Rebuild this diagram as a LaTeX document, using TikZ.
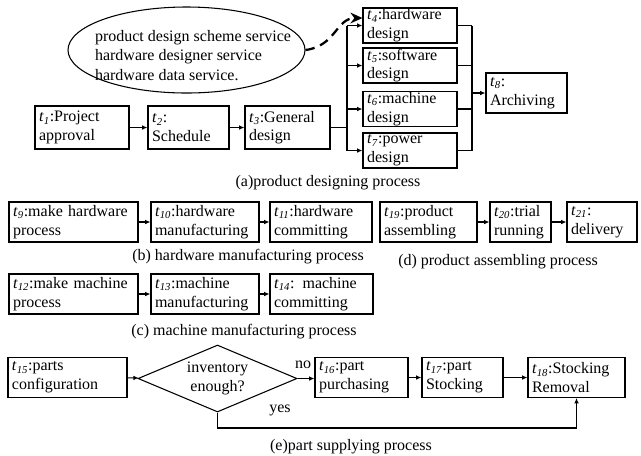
\documentclass[tikz,border=0pt]{standalone}
\usepackage{fontspec}
\setmainfont{Liberation Serif}
\usetikzlibrary{shapes.geometric,arrows.meta}

\newcommand{\tsk}[1]{\textit{t}\textsubscript{\textit{#1}}}

\begin{document}
\begin{tikzpicture}[
  x=0.75pt,
  y=-0.75pt,
  font=\fontsize{12}{14}\selectfont,
  wire/.style={line width=0.8pt},
  flow/.style={wire, -{Latex[length=4pt,width=3.5pt]}},
  task box/.style={
    draw,
    line width=0.8pt,
    align=left,
    inner xsep=3pt,
    inner ysep=0.5pt
  },
  caption/.style={inner sep=0pt}
]
  \useasboundingbox (0,0) rectangle (641,455);

  % task boxes: name/x/y/width/height (px)
  \foreach \name/\xpos/\ypos/\w/\h/\txt in {
    t1/82/127.5/94/43/{\tsk{1}:Project\\approval},
    t2/188.5/127.5/81/43/{\tsk{2}:\\Schedule},
    t3/287.5/127.5/85/43/{\tsk{3}:General\\design},
    t4/410/25.5/94/35/{\tsk{4}:hardware\\design},
    t5/410/65.5/94/35/{\tsk{5}:software\\design},
    t6/410/109/94/35/{\tsk{6}:machine\\design},
    t7/410/150.5/94/35/{\tsk{7}:power\\design},
    t8/526.5/93/81/40/{\tsk{8}:\\Archiving},
    t9/73.5/222/129/40/{\tsk{9}:make hardware\\process},
    t10/205/222/108/40/{\tsk{10}:hardware\\manufacturing},
    t11/321/222/102/40/{\tsk{11}:hardware\\committing},
    t19/428.5/222/97/40/{\tsk{19}:product\\assembling},
    t20/520.5/222/61/40/{\tsk{20}:trial\\running},
    t21/602/222/70/40/{\tsk{21}:\\delivery},
    t12/73.5/294/129/40/{\tsk{12}:make machine\\process},
    t13/205/294/108/40/{\tsk{13}:machine\\manufacturing},
    t14/321.5/294/103/40/{\tsk{14}: machine\\committing},
    t15/67.5/377.5/119/40/{\tsk{15}:parts\\configuration},
    t16/361.5/377.5/93/40/{\tsk{16}:part\\purchasing},
    t17/462.5/377.5/81/40/{\tsk{17}:part\\Stocking},
    t18/576.5/377.5/97/40/{\tsk{18}:Stocking\\Removal}
  } {
    \pgfmathsetmacro{\tw}{\w*0.75-6}
    \pgfmathsetmacro{\th}{\h*0.75}
    \node[task box, text width=\tw pt, minimum height=\th pt] (\name) at (\xpos,\ypos) {\txt};
  }

  % services
  \node[draw, ellipse, line width=0.8pt, minimum width=177.75pt, minimum height=64.5pt] (svc) at (186.5,50) {};
  \node[align=left, inner sep=0pt, font=\fontsize{12}{14.6}\selectfont] (svcText) at (193,55.5)
    {product design scheme service\\hardware designer service\\hardware data service.};
  \draw[line width=1.7pt, dash pattern=on 7pt off 4.5pt, -{Stealth[length=9pt,width=8pt]}]
    (svc.east) .. controls (336,46) and (336,18) .. ([yshift=5.6pt]t4.west);

  % (a)
  \draw[flow] (t1) -- (t2);
  \draw[flow] (t2) -- (t3);
  \coordinate (forkL) at (347,0);
  \coordinate (joinR) at (472,0);
  \draw[wire] (t3.east) -- (forkL |- t3.east);
  \draw[wire] (forkL |- t4.west) -- (forkL |- t7.west);
  \draw[wire] (joinR |- t4.east) -- (joinR |- t7.east);
  \foreach \i in {4,...,7} {
    \draw[flow] (forkL |- t\i.west) -- (t\i.west);
    \draw[wire] (t\i.east) -- (joinR |- t\i.east);
  }
  \draw[flow] (joinR |- t8.west) -- (t8.west);
  \node[caption] (capA) at (328,183) {(a)product designing process};

  % (b), (c), (d)
  \foreach \a/\b in {t9/t10, t10/t11, t12/t13, t13/t14, t19/t20, t20/t21}
    \draw[flow] (\a) -- (\b);
  \node[caption] (capB) at (248,257) {(b) hardware manufacturing process};
  \node[caption] (capD) at (498,262) {(d) product assembling process};
  \node[caption] (capC) at (244,332) {(c) machine manufacturing process};

  % (e)
  \node[draw, diamond, line width=0.8pt, shape aspect=2.4, inner sep=0pt,
    minimum width=119.25pt, minimum height=50.25pt, align=center] (dia) at (217.5,378.5)
    {inventory\\enough?};
  \draw[flow] (t15) -- (dia);
  \draw[flow] (dia.east) -- (t16.west |- dia.east);
  \node[caption] (lblNo) at (303,365) {no};
  \draw[flow] (t16) -- (t17);
  \draw[flow] (t17) -- (t18);
  \coordinate (yesTurn) at (217.5,428);
  \draw[flow] (dia.south) -- (yesTurn) -| (t18.south);
  \node[caption] (lblYes) at (280,410) {yes};
  \node[caption] (capE) at (351,447) {(e)part supplying process};
\end{tikzpicture}
\end{document}
